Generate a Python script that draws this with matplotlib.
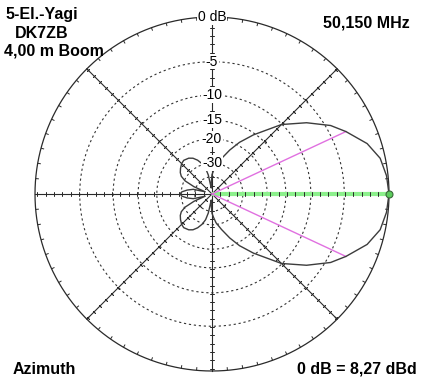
import numpy as np
import matplotlib
matplotlib.use("Agg")
import matplotlib.pyplot as plt

plt.rcParams['font.family'] = ['Liberation Sans', 'DejaVu Sans']

# azimuth pattern, one half (0..180 deg), mirrored for the other half
az_deg = [0, 6, 12, 18, 25, 30, 37, 45, 55, 62, 68, 75, 82, 86, 90, 94, 97,
          101, 104, 108, 113, 118, 123, 130, 135, 141, 146, 150, 154, 158,
          162, 166, 171, 176, 180]
gain_db = [0, -0.15, -0.5, -1.4, -3.1, -4.4, -6.9, -10.1, -15.4, -19, -22.6,
           -27, -31, -34.5, -38, -48, -58, -38, -32.6, -29.5, -27, -25.3,
           -24.4, -23.9, -24.3, -25.3, -26.3, -27.6, -30.5, -38, -55, -38,
           -33.5, -30.3, -29.4]

# half power directions
hp_az = [25, -25]
hp_db = [-3.1, -3.1]

ring_db = [-5, -10, -15, -20, -30, -40]
label_db = [0, -5, -10, -15, -20, -30]
label_txt = ['0 dB', '-5', '-10', '-15', '-20', '-30']

title_lines = ['5-El.-Yagi', 'DK7ZB', '4,00 m Boom']
freq_txt = '50,150 MHz'
plane_txt = 'Azimuth'
ref_txt = '0 dB = 8,27 dBd'


def arrl(db):
    # ARRL log scale
    return 0.89 ** (-np.asarray(db, dtype=float) / 2.0)


W, H = 425, 390
fig = plt.figure(figsize=(W / 100, H / 100), dpi=100)
R = 177.0
cx, cy = 212.0, 194.0
pad = 1.08
ra = R * pad
ax = fig.add_axes([(cx - ra) / W, (H - cy - ra) / H, 2 * ra / W, 2 * ra / H],
                  projection='polar')
ax.set_ylim(0, pad)
ax.set_axis_off()

full = np.radians(np.linspace(0, 360, 721))

# dotted rings
for db in ring_db:
    ax.plot(full, np.full_like(full, arrl(db)), color='#333333', lw=0.8,
            ls=(0, (2, 2.5)))

# outer circle with 5 deg ticks
ax.plot(full, np.ones_like(full), color='#2a2a2a', lw=0.9)
deg5 = np.radians(np.arange(0, 360, 5))
ax.vlines(deg5, 0.982, 1.0, color='#2a2a2a', lw=0.7)

# radial lines with small cross ticks
tick_r = np.arange(1, 22) * 0.047
for a in range(45, 360, 45):
    th = np.radians(a)
    ax.plot([th, th], [0, 1], color='#2a2a2a', lw=0.8)
    ax.plot(np.full_like(tick_r, th), tick_r, ls='none',
            marker=(2, 2, a), ms=2.4, mew=0.6, color='#2a2a2a')

# main direction in green
ax.plot([0, 0], [0, 1], color='#8cf08c', lw=3, solid_capstyle='butt')
ax.plot(np.zeros_like(tick_r), tick_r, ls='none', marker=(2, 2, 0),
        ms=2.4, mew=0.6, color='#2a2a2a')

# half power lines
for a, g in zip(hp_az, hp_db):
    th = np.radians(a)
    ax.plot([th, th], [0, arrl(g)], color='#e070e0', lw=1)

# pattern
az = np.array(az_deg, dtype=float)
g = np.array(gain_db, dtype=float)
theta = np.concatenate([az, 360 - az[-2::-1]])
gains = np.concatenate([g, g[-2::-1]])
ax.plot(np.radians(theta), arrl(gains), color='#3c3c3c', lw=1)

ax.plot([0], [1], marker='o', ms=5, mfc='#5ccc5c', mec='#3a6a3a', mew=0.8)

# ring labels
for db, txt in zip(label_db, label_txt):
    ax.text(np.pi / 2, arrl(db), txt, ha='center', va='center', fontsize=10,
            bbox=dict(boxstyle='square,pad=0.05', fc='white', ec='none'))

# corner texts
bold = dict(fontsize=11.5, fontweight='bold', va='baseline', ha='left')
fig.text(5 / W, 1 - 19 / H, title_lines[0], **bold)
fig.text(15 / W, 1 - 37.5 / H, title_lines[1], **bold)
fig.text(4 / W, 1 - 55.5 / H, title_lines[2], **bold)
fig.text(323 / W, 1 - 27 / H, freq_txt, **bold)
fig.text(13 / W, 1 - 373.5 / H, plane_txt, **bold)
fig.text(297 / W, 1 - 373.5 / H, ref_txt, **bold)

fig.savefig('out.png', dpi=100, facecolor='white')
